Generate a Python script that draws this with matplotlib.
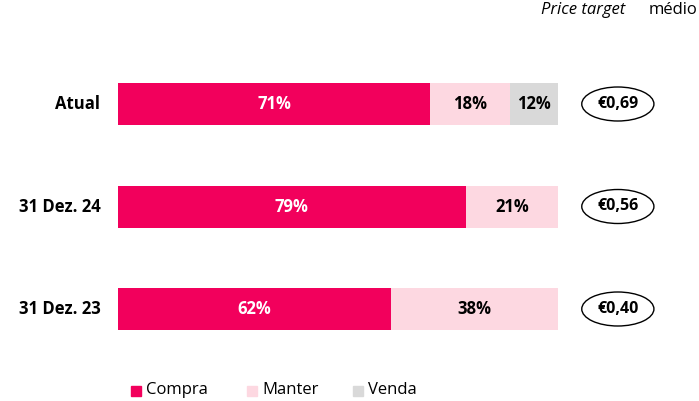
import matplotlib
matplotlib.use("Agg")
import matplotlib.pyplot as plt
from matplotlib.patches import Ellipse, Rectangle

categories = ["Atual", "31 Dez. 24", "31 Dez. 23"]
compra = [71, 79, 62]
manter = [18, 21, 38]
venda = [12, 0, 0]
price_targets = ["€0,69", "€0,56", "€0,40"]
series_names = ["Compra", "Manter", "Venda"]
colors = ["#F2005C", "#FDD8E1", "#D9D9D9"]
text_colors = ["white", "black", "black"]

plt.rcParams['font.family'] = ['Open Sans', 'DejaVu Sans']
fig = plt.figure(figsize=(6.99, 4.01), dpi=100)
ax = fig.add_axes([118/699, (401-350)/401, 440/699, 290/401])
ax.set_xlim(0, 100)
ax.set_ylim(2 + 41/102.5, -44/102.5)
ax.axis("off")

h = 42/102.5
for i, cat in enumerate(categories):
    left = 0
    for vals, col, tc in zip([compra, manter, venda], colors, text_colors):
        v = vals[i]
        if v <= 0:
            continue
        w = min(v, 100 - left)
        ax.barh(i, w, left=left, height=h, color=col)
        ax.text(left + w/2, i, f"{v}%", ha="center", va="center",
                color=tc, fontsize=12, fontweight="bold")
        left += w
    ax.text(-4, i, cat, ha="right", va="center", fontsize=12, fontweight="bold")
    ax.add_patch(Ellipse((113.6, i), 16.4, 34/102.5, fill=False,
                         edgecolor="black", lw=1, clip_on=False))
    ax.text(113.6, i, price_targets[i], ha="center", va="center",
            fontsize=11.5, fontweight="bold", clip_on=False)

fig.text(697/699, 1 - 10/401, "médio", ha="right", va="center", fontsize=12)
fig.text(630/699, 1 - 10/401, "Price target ", ha="right", va="center",
         fontsize=12, style="italic")

# legend
lx = [131, 247, 353]
for x, name, col in zip(lx, series_names, colors):
    fig.patches.append(Rectangle((x/699, 1 - 396/401), 10/699, 10/401,
                                 transform=fig.transFigure, color=col))
    fig.text((x + 15)/699, 1 - 390/401, name, ha="left", va="center", fontsize=12)

fig.savefig("out.png", dpi=100)
